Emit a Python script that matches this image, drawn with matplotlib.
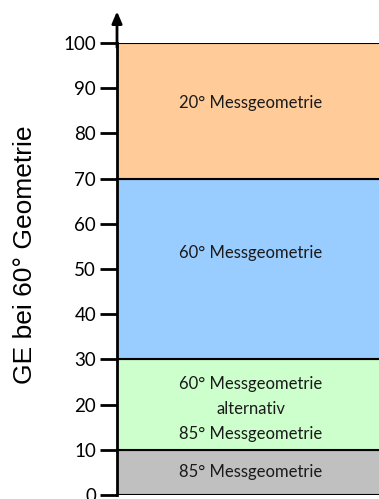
import matplotlib
matplotlib.use("Agg")
import matplotlib.pyplot as plt

# band boundaries (GE at 60 deg geometry) and labels
band_bottom = [0, 10, 30, 70]
band_top = [10, 30, 70, 100]
band_colors = ["#C0C0C0", "#CCFFCC", "#99CCFF", "#FFCC99"]
band_labels = [
    ["85° Messgeometrie"],
    ["60° Messgeometrie", "alternativ", "85° Messgeometrie"],
    ["60° Messgeometrie"],
    ["20° Messgeometrie"],
]
yticks = [0, 10, 20, 30, 40, 50, 60, 70, 80, 90, 100]

fig = plt.figure(figsize=(3.79, 4.99), dpi=100)
ax = fig.add_axes([117 / 379, 4 / 499, 1 - 117 / 379, 452 / 499])

heights = [t - b for b, t in zip(band_bottom, band_top)]
ax.bar(0, heights, bottom=band_bottom, width=1.2, align="edge",
       color=band_colors, edgecolor="black", linewidth=1.5)

# label anchor inside each band (text sits a bit above the band middle)
label_y = [5.1, 19.0, 53.5, 86.7]
step = 5.6
for y0, lines in zip(label_y, band_labels):
    n = len(lines)
    for k, line in enumerate(lines):
        y = y0 + (n - 1) / 2 * step - k * step
        ax.text(0.51, y, line, ha="center", va="center", fontsize=12,
                family="Lato", color="#1a1a1a")

ax.set_xlim(0, 1)
ax.set_ylim(0, 100)
ax.set_yticks(yticks)
ax.set_yticklabels([str(v) for v in yticks], family="Lato", fontsize=13.5)
ax.tick_params(axis="y", length=12, width=2, pad=3)
ax.set_xticks([])
for s in ["top", "right", "bottom"]:
    ax.spines[s].set_visible(False)
ax.spines["left"].set_linewidth(2)

# arrow at top of the y axis
ax.annotate("", xy=(0, 107), xytext=(0, 99), xycoords="data",
            arrowprops=dict(arrowstyle="-|>,head_length=0.7,head_width=0.3",
                            color="black", lw=2, shrinkA=0, shrinkB=0),
            annotation_clip=False)

fig.text(25 / 379, 1 - 255 / 499, "GE bei 60° Geometrie", rotation=90,
         ha="center", va="center", fontsize=19, family="Liberation Sans")

fig.savefig("out.png", dpi=100)
